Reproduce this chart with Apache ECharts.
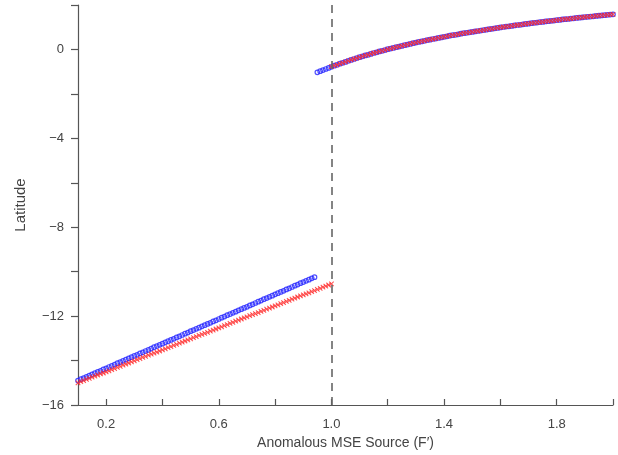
<!DOCTYPE html>
<html>
<head>
<meta charset="utf-8">
<script src="https://cdn.jsdelivr.net/npm/echarts@6/dist/echarts.min.js"></script>
<style>html,body{margin:0;padding:0;background:#fff}#c{width:618px;height:455px}</style>
</head>
<body>
<div id="c"></div>
<script>
var xs = [0.10,0.11,0.12,0.13,0.14,0.15,0.16,0.17,0.18,0.19,0.20,0.21,0.22,0.23,0.24,0.25,0.26,0.27,0.28,0.29,
0.30,0.31,0.32,0.33,0.34,0.35,0.36,0.37,0.38,0.39,0.40,0.41,0.42,0.43,0.44,0.45,0.46,0.47,0.48,0.49,
0.50,0.51,0.52,0.53,0.54,0.55,0.56,0.57,0.58,0.59,0.60,0.61,0.62,0.63,0.64,0.65,0.66,0.67,0.68,0.69,
0.70,0.71,0.72,0.73,0.74,0.75,0.76,0.77,0.78,0.79,0.80,0.81,0.82,0.83,0.84,0.85,0.86,0.87,0.88,0.89,
0.90,0.91,0.92,0.93,0.94,0.95,0.96,0.97,0.98,0.99,1.00,1.01,1.02,1.03,1.04,1.05,1.06,1.07,1.08,1.09,
1.10,1.11,1.12,1.13,1.14,1.15,1.16,1.17,1.18,1.19,1.20,1.21,1.22,1.23,1.24,1.25,1.26,1.27,1.28,1.29,
1.30,1.31,1.32,1.33,1.34,1.35,1.36,1.37,1.38,1.39,1.40,1.41,1.42,1.43,1.44,1.45,1.46,1.47,1.48,1.49,
1.50,1.51,1.52,1.53,1.54,1.55,1.56,1.57,1.58,1.59,1.60,1.61,1.62,1.63,1.64,1.65,1.66,1.67,1.68,1.69,
1.70,1.71,1.72,1.73,1.74,1.75,1.76,1.77,1.78,1.79,1.80,1.81,1.82,1.83,1.84,1.85,1.86,1.87,1.88,1.89,
1.90,1.91,1.92,1.93,1.94,1.95,1.96,1.97,1.98,1.99,2.00];

// blue circles: x = 0.10 ... 2.00
var blueY = [-14.90,-14.84,-14.79,-14.73,-14.68,-14.62,-14.57,-14.51,-14.46,-14.40,
-14.35,-14.29,-14.24,-14.18,-14.12,-14.07,-14.01,-13.96,-13.90,-13.85,
-13.79,-13.74,-13.68,-13.63,-13.57,-13.52,-13.46,-13.40,-13.35,-13.29,
-13.24,-13.18,-13.13,-13.07,-13.02,-12.96,-12.91,-12.85,-12.79,-12.74,
-12.68,-12.63,-12.57,-12.52,-12.46,-12.41,-12.35,-12.30,-12.24,-12.19,
-12.13,-12.07,-12.02,-11.96,-11.91,-11.85,-11.80,-11.74,-11.69,-11.63,
-11.58,-11.52,-11.47,-11.41,-11.35,-11.30,-11.24,-11.19,-11.13,-11.08,
-11.02,-10.97,-10.91,-10.86,-10.80,-10.75,-10.69,-10.63,-10.58,-10.52,
-10.47,-10.41,-10.36,-10.30,-10.25,
-1.03,-0.98,-0.93,-0.88,-0.83,
-0.78,-0.73,-0.69,-0.64,-0.60,-0.56,-0.51,-0.47,-0.43,-0.39,
-0.35,-0.31,-0.27,-0.24,-0.20,-0.16,-0.13,-0.09,-0.06,-0.03,
0.01,0.04,0.07,0.10,0.13,0.16,0.19,0.22,0.25,0.28,
0.31,0.34,0.36,0.39,0.42,0.44,0.47,0.49,0.52,0.54,
0.57,0.59,0.62,0.64,0.66,0.68,0.71,0.73,0.75,0.77,
0.79,0.81,0.83,0.85,0.87,0.89,0.91,0.93,0.95,0.97,
0.99,1.01,1.03,1.04,1.06,1.08,1.10,1.11,1.13,1.15,
1.16,1.18,1.20,1.21,1.23,1.24,1.26,1.27,1.29,1.30,
1.32,1.33,1.35,1.36,1.37,1.39,1.40,1.42,1.43,1.44,
1.46,1.47,1.48,1.49,1.51,1.52,1.53,1.54,1.56,1.57,1.58];

// red crosses, lower branch: x = 0.10 ... 1.00
var redLowY = [-15.00,-14.95,-14.90,-14.85,-14.80,-14.75,-14.70,-14.65,-14.60,-14.56,
-14.51,-14.46,-14.41,-14.36,-14.31,-14.26,-14.21,-14.16,-14.11,-14.06,
-14.01,-13.96,-13.91,-13.86,-13.81,-13.76,-13.71,-13.67,-13.62,-13.57,
-13.52,-13.47,-13.42,-13.37,-13.32,-13.27,-13.22,-13.17,-13.12,-13.07,
-13.02,-12.97,-12.92,-12.87,-12.82,-12.78,-12.73,-12.68,-12.63,-12.58,
-12.53,-12.48,-12.43,-12.38,-12.33,-12.28,-12.23,-12.18,-12.13,-12.08,
-12.03,-11.98,-11.93,-11.89,-11.84,-11.79,-11.74,-11.69,-11.64,-11.59,
-11.54,-11.49,-11.44,-11.39,-11.34,-11.29,-11.24,-11.19,-11.14,-11.09,
-11.04,-11.00,-10.95,-10.90,-10.85,-10.80,-10.75,-10.70,-10.65,-10.60,-10.55];

// red crosses, upper branch: x = 1.00 ... 2.00
var redUpY = [-0.77,-0.73,-0.69,-0.64,-0.60,-0.56,-0.51,-0.47,-0.43,-0.39,
-0.35,-0.31,-0.27,-0.24,-0.20,-0.16,-0.13,-0.09,-0.06,-0.03,
0.01,0.04,0.07,0.10,0.13,0.16,0.19,0.22,0.25,0.28,
0.31,0.34,0.36,0.39,0.42,0.44,0.47,0.49,0.52,0.54,
0.57,0.59,0.62,0.64,0.66,0.68,0.71,0.73,0.75,0.77,
0.79,0.81,0.83,0.85,0.87,0.89,0.91,0.93,0.95,0.97,
0.99,1.01,1.03,1.04,1.06,1.08,1.10,1.11,1.13,1.15,
1.16,1.18,1.20,1.21,1.23,1.24,1.26,1.27,1.29,1.30,
1.32,1.33,1.35,1.36,1.37,1.39,1.40,1.42,1.43,1.44,
1.46,1.47,1.48,1.49,1.51,1.52,1.53,1.54,1.56,1.57,1.58];

var xLabelValues = [0.2, 0.6, 1.0, 1.4, 1.8];
var xTickValues = [0.2, 0.4, 0.6, 0.8, 1.0, 1.2, 1.4, 1.6, 1.8, 2.0];
var yLabelValues = [0, -4, -8, -12, -16];
var jumpX = 1.0;

var blueData = xs.map(function (x, i) { return [x, blueY[i]]; });
var redLowData = redLowY.map(function (y, i) { return [xs[i], y]; });
var redUpData = redUpY.map(function (y, i) { return [xs[i + 90], y]; });

var font = 'Liberation Sans';
var axisCol = '#555';
var txtCol = '#444';
var crossPath = 'path://M0,0L10,10M10,0L0,10';

var chart = echarts.init(document.getElementById('c'));
chart.setOption({
  animation: false,
  backgroundColor: '#fff',
  grid: { left: 78, right: 5, top: 5, bottom: 50 },
  xAxis: {
    type: 'value', min: 0.1, max: 2.0,
    name: 'Anomalous MSE Source (F\u2032)', nameLocation: 'middle', nameGap: 30,
    nameTextStyle: { fontFamily: font, fontSize: 14, color: txtCol },
    axisLine: { show: true, onZero: false, lineStyle: { color: axisCol, width: 1.2 } },
    axisTick: { show: true, inside: true, length: 6, customValues: xTickValues, lineStyle: { color: axisCol, width: 1.2 } },
    axisLabel: { customValues: xLabelValues, margin: 13, fontFamily: font, fontSize: 13, color: txtCol,
      formatter: function (v) { return v.toFixed(1); } },
    splitLine: { show: false }
  },
  yAxis: {
    type: 'value', min: -16, max: 2, interval: 2,
    name: 'Latitude', nameLocation: 'middle', nameGap: 50,
    nameTextStyle: { fontFamily: font, fontSize: 15, color: txtCol },
    axisLine: { show: true, onZero: false, lineStyle: { color: axisCol, width: 1.2 } },
    axisTick: { show: true, inside: false, length: 7, lineStyle: { color: axisCol, width: 1.2 } },
    axisLabel: { margin: 14, fontFamily: font, fontSize: 13, color: txtCol,
      formatter: function (v) { return yLabelValues.indexOf(v) >= 0 ? String(v).replace('-', '\u2212') : ''; } },
    splitLine: { show: false }
  },
  series: [
    {
      type: 'scatter', data: blueData, symbol: 'circle', symbolSize: 4.5,
      itemStyle: { color: 'rgba(255,255,255,0)', borderColor: '#2424ff', borderWidth: 1.2 },
      markLine: {
        silent: true, symbol: 'none', label: { show: false },
        lineStyle: { color: '#666', type: [8, 6], width: 1.6 },
        data: [{ xAxis: jumpX }]
      }
    },
    {
      type: 'scatter', data: redLowData, symbol: crossPath, symbolSize: 4.5,
      itemStyle: { color: 'rgba(0,0,0,0)', borderColor: '#ff2a2a', borderWidth: 1.1 }
    },
    {
      type: 'scatter', data: redUpData, symbol: crossPath, symbolSize: 4.5,
      itemStyle: { color: 'rgba(0,0,0,0)', borderColor: '#ff2a2a', borderWidth: 1.1 }
    }
  ]
});
</script>
</body>
</html>
